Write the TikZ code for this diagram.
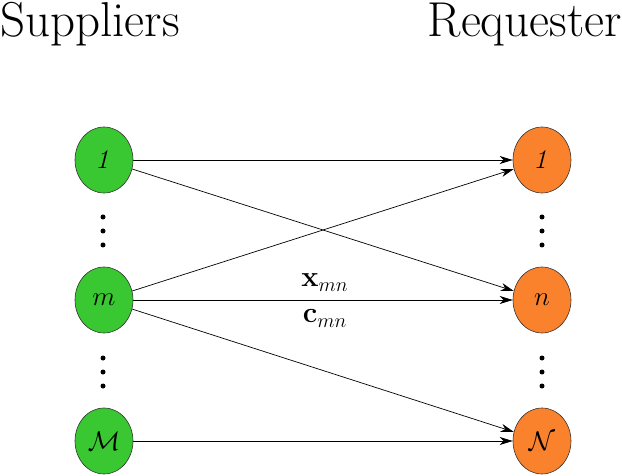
\documentclass[tikz,border=0pt]{standalone}
\usepackage{amsmath}
\usetikzlibrary{shapes.geometric,arrows.meta}
\definecolor{supgreen}{RGB}{58,200,50}
\definecolor{reqorange}{RGB}{250,130,45}
\newcommand{\nodetxt}[1]{\scalebox{1.3}{$#1$}}
\newcommand{\edgetxt}[1]{\scalebox{1.4}{$#1$}}
\begin{document}
\begin{tikzpicture}[x=1pt,y=-1pt,
  nodebase/.style={ellipse,draw=black!80,line width=0.6pt,minimum width=58pt,minimum height=66pt,inner sep=0pt,font=\fontsize{20}{24}\selectfont},
  sup/.style={nodebase,fill=supgreen},
  req/.style={nodebase,fill=reqorange},
  link/.style={line width=0.7pt,-{Stealth[length=13pt,width=8pt,inset=4pt]}},
  dotmark/.style={circle,fill=black,inner sep=0pt,minimum size=5pt},
  title/.style={font=\fontsize{49}{56}\selectfont,inner sep=0pt},
  elabel/.style={font=\fontsize{20}{24}\selectfont,inner sep=0pt}]
\useasboundingbox (0,0) rectangle (622,476);
\node[title,anchor=base west] (tS) at (0,37) {Suppliers};
\node[title,anchor=base east] (tR) at (622,37) {Requester};
\node[sup] (s1) at (104,160) {\nodetxt{\mathit{1}}};
\node[sup] (sm) at (104,300) {\nodetxt{m}};
\node[sup] (sM) at (104,441) {\nodetxt{\mathcal{M}}};
\node[req] (r1) at (542,160) {\nodetxt{\mathit{1}}};
\node[req] (rn) at (542,300) {\nodetxt{n}};
\node[req] (rN) at (542,441) {\nodetxt{\mathcal{N}}};
\foreach \x/\n in {103/a,542/b}{
  \foreach \y/\k in {217/1,231/2,245/3}{\node[dotmark] (d\n\k) at (\x,\y) {};}
  \foreach \y/\k in {358/4,372/5,386/6}{\node[dotmark] (d\n\k) at (\x,\y) {};}
}
\draw[link] (s1) -- (r1);
\draw[link] (s1) -- (rn);
\draw[link] (sm) -- (r1);
\draw[link] (sm) -- (rn)
  node[pos=0.505,anchor=base,elabel,yshift=13pt] (lx) {\edgetxt{\mathbf{x}_{mn}}}
  node[pos=0.505,anchor=base,elabel,yshift=-23pt] (lc) {\edgetxt{\mathbf{c}_{mn}}};
\draw[link] (sm) -- (rN);
\draw[link] (sM) -- (rN);
\end{tikzpicture}
\end{document}
